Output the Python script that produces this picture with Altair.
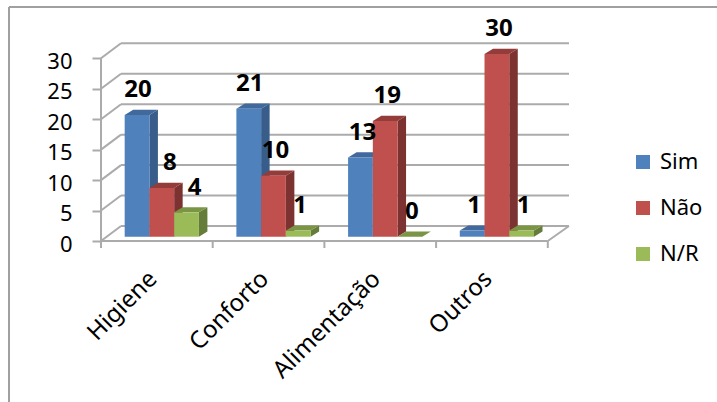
import altair as alt
import pandas as pd

categories = ["Higiene", "Conforto", "Alimentação", "Outros"]
series = ["Sim", "Não", "N/R"]
sim = [20, 21, 13, 1]
nao = [8, 10, 19, 30]
nr = [4, 1, 0, 1]
y_ticks = [0, 5, 10, 15, 20, 25, 30]

front_colors = ["#4F81BD", "#C0504D", "#9BBB59"]
side_colors = ["#385D8A", "#7B3230", "#667C3A"]
top_colors = ["#41699C", "#933C3A", "#7A9645"]
grid_color = "#ABABAB"
frame_color = "#A0A0A0"
font = "Noto Sans"

# Pixel layout of the plot box and the scale factors for the fake 3-D depth
PLOT_W, PLOT_H = 468, 199
PX_PER_CAT = 111.7
PX_PER_UNIT = 6.09
wall_dx = 20 / PX_PER_CAT
wall_dy = 15 / PX_PER_UNIT
bar_dx = 8.5 / PX_PER_CAT
bar_dy = 5.2 / PX_PER_UNIT
bar_lift = 4.3
group_start = 0.212
bar_w = 0.2215
n = len(categories)

x_scale = alt.Scale(domain=[0, PLOT_W / PX_PER_CAT], nice=False, zero=False)
y_scale = alt.Scale(domain=[0, PLOT_H / PX_PER_UNIT], nice=False, zero=False)

# Both axes are shared by every layer so that Vega-Lite merges them into one
x_axis = alt.Axis(
    values=[i + 0.5 for i in range(n)],
    labelExpr="['Higiene','Conforto','Alimentação','Outros'][floor(datum.value)]",
    labelAngle=315, labelAlign="right", labelBaseline="middle",
    labelFont=font, labelFontSize=24, labelColor="#000000",
    labelPadding=34, labelOffset=-4, labelOverlap=False, labelBound=False, labelFlush=False,
    ticks=False, domain=False, grid=False, title=None)
y_axis = alt.Axis(
    values=y_ticks, format="d", labelFont=font, labelFontSize=22, labelColor="#000000",
    labelPadding=20, labelOffset=3, labelOverlap=False, labelBound=False, labelFlush=False,
    tickSize=9, tickWidth=2, tickColor=grid_color, domain=False, grid=False, title=None)


def X(field):
    return alt.X(field, type="quantitative", scale=x_scale, axis=x_axis)


def Y(field):
    return alt.Y(field, type="quantitative", scale=y_scale, axis=y_axis, stack=None)


# Bar tables: one front rectangle per value, plus side and top parallelograms
values_by_series = {"Sim": sim, "Não": nao, "N/R": nr}
fronts, sides, tops, labels = [], [], [], []
label_nudge = {("Higiene", "Não"): 6, ("Higiene", "N/R"): 6, ("Higiene", "Sim"): -1, ("Conforto", "Sim"): -1}
for s_i, s in enumerate(series):
    for c_i, c in enumerate(categories):
        v = values_by_series[s][c_i]
        left = c_i + group_start + s_i * bar_w
        right = left + bar_w
        key = f"{c}-{s}"
        fronts.append({"series": s, "left": left, "right": right, "value": v, "zero": 0})
        sides += [
            {"key": key, "x": right, "hi": v, "lo": 0, "fill": side_colors[s_i]},
            {"key": key, "x": right + bar_dx, "hi": v + bar_dy, "lo": bar_dy, "fill": side_colors[s_i]},
        ]
        tops += [
            {"key": key, "x": left, "hi": v, "lo": v, "fill": top_colors[s_i]},
            {"key": key, "x": left + bar_dx, "hi": v + bar_dy, "lo": v, "fill": top_colors[s_i]},
            {"key": key, "x": right, "hi": v + bar_dy, "lo": v, "fill": top_colors[s_i]},
            {"key": key, "x": right + bar_dx, "hi": v + bar_dy, "lo": v + bar_dy, "fill": top_colors[s_i]},
        ]
        nudge = label_nudge.get((c, s), 0) + 2
        labels.append({"x": left + bar_w / 2 + nudge / PX_PER_CAT, "value": v})

fronts = pd.DataFrame(fronts)
sides = pd.DataFrame(sides)
tops = pd.DataFrame(tops)
labels = pd.DataFrame(labels)

x_end = PLOT_W / PX_PER_CAT

# Back-wall gridlines and the slanted lines joining them to the value axis
back_grid = pd.DataFrame({"x": [wall_dx] * len(y_ticks), "x2": [x_end] * len(y_ticks),
                          "y": [t + wall_dy for t in y_ticks], "y2": [t + wall_dy for t in y_ticks]})
side_grid = pd.DataFrame({"x": [0.0] * len(y_ticks), "x2": [wall_dx] * len(y_ticks),
                          "y": y_ticks, "y2": [t + wall_dy for t in y_ticks]})
floor_edges = pd.DataFrame({"x": [0.0, n], "x2": [n, x_end], "y": [0.0, 0.0], "y2": [0.0, wall_dy]})
value_edge = pd.DataFrame({"x": [0.0], "x2": [0.0], "y": [0.0], "y2": [max(y_ticks)]})
cat_ticks = pd.DataFrame({"x": [float(i) for i in range(n + 1)], "y": [0.0] * (n + 1),
                          "y2": [-7 / PX_PER_UNIT] * (n + 1)})


def rules(df, width=2.0, color=grid_color):
    return alt.Chart(df).mark_rule(color=color, strokeWidth=width).encode(
        x=X("x"), x2="x2:Q", y=Y("y"), y2="y2:Q"
    )


frame_top = alt.Chart(pd.DataFrame({"a": [0]})).mark_rule(color=frame_color, strokeWidth=2).encode(
    x=alt.value(-92), x2=alt.value(616), y=alt.value(-35)
)
frame_left = alt.Chart(pd.DataFrame({"a": [0]})).mark_rule(color=frame_color, strokeWidth=2).encode(
    x=alt.value(-92), y=alt.value(-35), y2=alt.value(360)
)

side_faces = alt.Chart(sides).mark_area(yOffset=-bar_lift, y2Offset=-bar_lift, interpolate="linear").encode(
    x=X("x"), y=Y("hi"), y2="lo:Q", detail="key:N",
    color=alt.Color("fill:N", scale=None, legend=None),
)
top_faces = alt.Chart(tops).mark_area(yOffset=-bar_lift, y2Offset=-bar_lift, interpolate="linear").encode(
    x=X("x"), y=Y("hi"), y2="lo:Q", detail="key:N",
    color=alt.Color("fill:N", scale=None, legend=None),
)
front_faces = alt.Chart(fronts).mark_rect(yOffset=-bar_lift, y2Offset=-bar_lift).encode(
    x=X("left"), x2="right:Q", y=Y("value"), y2="zero:Q",
    color=alt.Color("series:N", scale=alt.Scale(domain=series, range=front_colors), title=None, sort=series,
                    legend=alt.Legend(orient="none", legendX=531, legendY=109, symbolType="square",
                                      symbolSize=196, symbolStrokeWidth=0, labelFont=font, labelFontSize=22,
                                      labelColor="#000000", rowPadding=24, labelOffset=6)),
)

value_labels = alt.Chart(labels).mark_text(
    font=font, fontSize=24, fontWeight="bold", color="#000000", dy=-29, baseline="middle"
).encode(x=X("x"), y=Y("value"), text=alt.Text("value:Q", format="d"))

chart = alt.layer(
    frame_top, frame_left,
    rules(back_grid), rules(side_grid), rules(floor_edges), rules(value_edge),
    alt.Chart(cat_ticks).mark_rule(color=grid_color, strokeWidth=2).encode(x=X("x"), y=Y("y"), y2="y2:Q"),
    side_faces, top_faces, front_faces, value_labels,
).resolve_scale(color="independent").properties(
    width=PLOT_W, height=PLOT_H,
    padding={"left": 101, "top": 42, "right": 148, "bottom": 161},
    autosize=alt.AutoSizeParams(type="none"),
    background="#FFFFFF",
).configure_view(stroke=None)

chart.save("out.html", embed_options={"renderer": "svg", "actions": False})
